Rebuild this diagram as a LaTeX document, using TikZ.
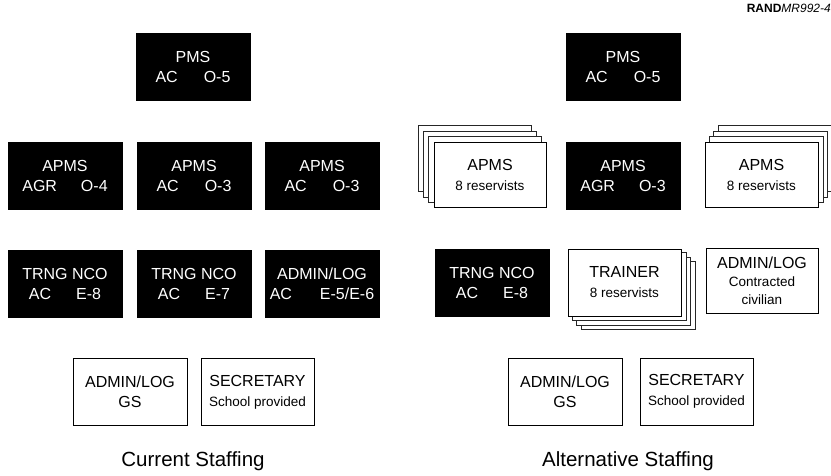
\documentclass[tikz,border=0pt]{standalone}
\usepackage{fontspec}
\setmainfont{Liberation Sans}
\usetikzlibrary{backgrounds}
\begin{document}
\begin{tikzpicture}[x=1pt,y=-1pt,
  box/.style={minimum width=114pt, minimum height=67pt, inner sep=0pt, align=center, font=\fontsize{16}{20}\selectfont},
  blk/.style={box, fill=black, draw=black, text=white},
  wht/.style={box, fill=white, draw=black, line width=0.9pt, text=black},
  layer/.style={fill=white, draw=black!85, line width=0.7pt},
  caption/.style={font=\fontsize{20.5}{24}\selectfont, inner sep=0pt}
]
\newcommand{\subtxt}[1]{{\fontsize{13.5}{17}\selectfont #1}}
\useasboundingbox (0,0) rectangle (831,476);

% header
\node[anchor=north east, inner sep=0pt, font=\fontsize{12}{14}\selectfont] (rand) at (831,4) {\textbf{RAND}\textit{MR992-4}};

% ---- Current staffing ----
\node[blk] (pmsL) at (193,67) {PMS\\AC\hspace{26pt}O-5};
\node[blk] (apmsL1) at (65,176) {APMS\\AGR\hspace{24pt}O-4};
\node[blk] (apmsL2) at (194,176) {APMS\\AC\hspace{26pt}O-3};
\node[blk] (apmsL3) at (322,176) {APMS\\AC\hspace{26pt}O-3};
\node[blk] (trngL1) at (65,283.5) {TRNG NCO\\AC\hspace{25pt}E-8};
\node[blk] (trngL2) at (194,283.5) {TRNG NCO\\AC\hspace{25pt}E-7};
\node[blk] (adminL) at (322,283.5) {ADMIN/LOG\\AC\hspace{28pt}E-5/E-6};
\node[wht] (gsL) at (130,392) {ADMIN/LOG\\GS};
\node[wht, minimum width=113pt] (secL) at (257.5,392) {SECRETARY\\\subtxt{School provided}};
\node[caption] (capL) at (193,461) {Current Staffing};

% ---- Alternative staffing ----
\node[blk] (pmsR) at (623,67) {PMS\\AC\hspace{26pt}O-5};
\node[wht, minimum width=112pt, minimum height=65pt] (resA) at (490,175) {APMS\\\subtxt{8 reservists}};
\node[blk] (apmsR) at (623,176) {APMS\\AGR\hspace{24pt}O-3};
\node[wht, minimum width=113pt, minimum height=65pt] (resB) at (761.5,175) {APMS\\\subtxt{8 reservists}};
\node[blk] (trngR) at (492,283) {TRNG NCO\\AC\hspace{25pt}E-8};
\node[wht, minimum width=113pt] (trainer) at (624.5,282.5) {TRAINER\\\subtxt{8 reservists}};
\node[wht, minimum width=112pt, minimum height=65pt, font=\fontsize{16}{18}\selectfont] (adminR) at (762,281) {ADMIN/LOG\\\subtxt{Contracted}\\\subtxt{civilian}};
\node[wht] (gsR) at (565,391.5) {ADMIN/LOG\\GS};
\node[wht, minimum width=113pt] (secR) at (696.5,391.5) {SECRETARY\\\subtxt{School provided}};
\node[caption] (capR) at (628,461) {Alternative Staffing};

% stacked layers behind the reservist boxes
\begin{scope}[on background layer]
  \foreach \k in {3,2,1} {
    \draw[layer] ([shift={(-5*\k,-5.5*\k)}]resA.south west) rectangle ([shift={(-5*\k,-5.5*\k)}]resA.north east);
    \draw[layer] ([shift={(4.5*\k,-5.5*\k)}]resB.south west) rectangle ([shift={(4.5*\k,-5.5*\k)}]resB.north east);
    \draw[layer] ([shift={(4.5*\k,4.3*\k)}]trainer.south west) rectangle ([shift={(4.5*\k,4.3*\k)}]trainer.north east);
  }
\end{scope}
\end{tikzpicture}
\end{document}
